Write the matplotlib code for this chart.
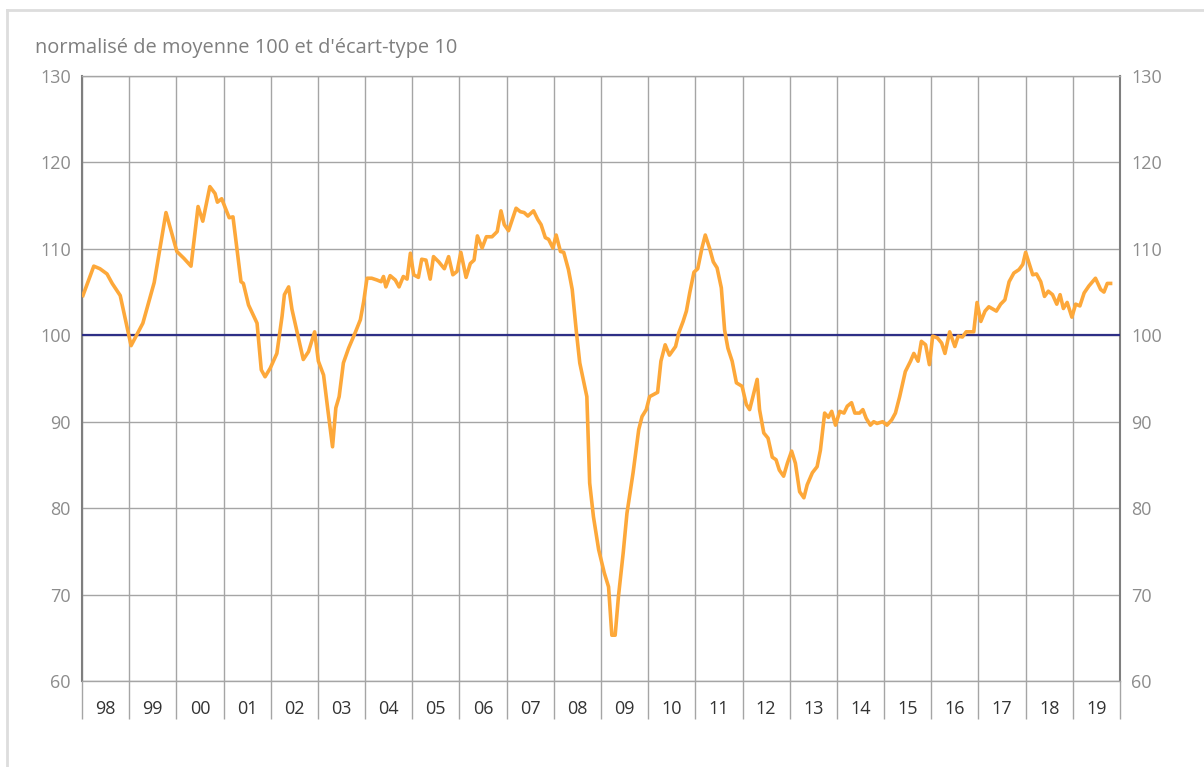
"""
Climat des affaires - indicateur normalisé (moyenne 100, écart-type 10), 1998-2019
"""

import matplotlib.pyplot as plt
from matplotlib.lines import Line2D
import numpy as np

# Data: decimal years (since 1998) and values
X_OFFSET = 1998
DATES = [
    0.02, 0.25, 0.38, 0.53, 0.64, 0.81, 1.04, 1.29, 1.53, 1.78,
    2.01, 2.16, 2.31, 2.46, 2.56, 2.71, 2.82, 2.87, 2.96, 3.12,
    3.20, 3.37, 3.42, 3.53, 3.71, 3.80, 3.88, 3.99, 4.13, 4.24,
    4.29, 4.38, 4.45, 4.55, 4.69, 4.80, 4.93, 5.01, 5.12, 5.21,
    5.31, 5.38, 5.45, 5.54, 5.65, 5.79, 5.90, 5.97, 6.04, 6.14,
    6.25, 6.34, 6.39, 6.44, 6.53, 6.64, 6.72, 6.81, 6.89, 6.96,
    7.03, 7.13, 7.20, 7.29, 7.38, 7.45, 7.56, 7.68, 7.77, 7.86,
    7.95, 8.03, 8.14, 8.23, 8.31, 8.38, 8.48, 8.57, 8.69, 8.80,
    8.88, 8.95, 9.04, 9.20, 9.29, 9.37, 9.45, 9.57, 9.66, 9.73,
    9.82, 9.89, 9.98, 10.05, 10.14, 10.21, 10.31, 10.39, 10.48, 10.55,
    10.70, 10.76, 10.84, 10.95, 11.07, 11.16, 11.23, 11.30, 11.37, 11.47,
    11.55, 11.68, 11.80, 11.87, 11.96, 12.03, 12.20, 12.27, 12.36, 12.45,
    12.58, 12.65, 12.74, 12.81, 12.88, 12.97, 13.05, 13.14, 13.21, 13.30,
    13.38, 13.46, 13.55, 13.62, 13.69, 13.78, 13.87, 13.99, 14.08, 14.15,
    14.22, 14.31, 14.36, 14.45, 14.54, 14.63, 14.71, 14.78, 14.87, 14.95,
    15.04, 15.12, 15.21, 15.30, 15.37, 15.48, 15.58, 15.65, 15.74, 15.82,
    15.89, 15.97, 16.06, 16.15, 16.22, 16.31, 16.38, 16.48, 16.55, 16.62,
    16.71, 16.78, 16.85, 16.97, 17.06, 17.16, 17.24, 17.33, 17.45, 17.56,
    17.63, 17.72, 17.79, 17.88, 17.96, 18.03, 18.13, 18.22, 18.29, 18.39,
    18.50, 18.57, 18.66, 18.74, 18.90, 18.97, 19.05, 19.14, 19.22, 19.38,
    19.47, 19.56, 19.65, 19.75, 19.86, 19.94, 20.00, 20.08, 20.15, 20.23,
    20.32, 20.40, 20.48, 20.57, 20.66, 20.73, 20.80, 20.88, 20.98, 21.06,
    21.15, 21.24, 21.34, 21.48, 21.59, 21.66, 21.73, 21.80,
]
VALUES = [
    104.6, 108.0, 107.7, 107.1, 106.0, 104.6, 98.8, 101.4, 106.1, 114.2,
    109.7, 108.9, 108.0, 114.9, 113.2, 117.2, 116.4, 115.4, 115.8, 113.6,
    113.7, 106.2, 106.0, 103.5, 101.4, 96.0, 95.2, 96.2, 97.9, 102.2,
    104.7, 105.6, 103.0, 100.6, 97.2, 98.1, 100.4, 97.0, 95.4, 91.4,
    87.1, 91.6, 92.9, 96.8, 98.5, 100.3, 101.8, 103.9, 106.6, 106.6,
    106.4, 106.2, 106.8, 105.6, 106.9, 106.4, 105.6, 106.8, 106.5, 109.5,
    107.0, 106.7, 108.8, 108.7, 106.5, 109.1, 108.5, 107.7, 109.1, 107.0,
    107.4, 109.6, 106.7, 108.3, 108.7, 111.5, 110.1, 111.4, 111.4, 112.0,
    114.4, 112.8, 112.1, 114.7, 114.3, 114.2, 113.8, 114.4, 113.4, 112.8,
    111.3, 111.1, 110.1, 111.6, 109.7, 109.6, 107.6, 105.3, 100.3, 96.8,
    92.9, 82.9, 79.0, 75.2, 72.5, 70.9, 65.3, 65.3, 69.8, 74.8,
    79.4, 84.1, 89.1, 90.6, 91.4, 92.9, 93.4, 97.0, 98.9, 97.7,
    98.7, 100.3, 101.6, 102.8, 104.9, 107.3, 107.7, 110.1, 111.6, 110.1,
    108.5, 107.8, 105.5, 100.6, 98.5, 97.0, 94.5, 94.1, 92.0, 91.4,
    92.9, 94.9, 91.4, 88.7, 88.1, 85.9, 85.6, 84.4, 83.7, 85.2,
    86.6, 85.2, 81.9, 81.2, 82.7, 84.1, 84.8, 86.7, 91.0, 90.5,
    91.2, 89.6, 91.2, 91.0, 91.8, 92.2, 91.0, 91.0, 91.4, 90.4,
    89.6, 90.0, 89.8, 90.0, 89.6, 90.2, 91.0, 92.9, 95.8, 97.0,
    97.9, 97.0, 99.3, 98.9, 96.6, 99.9, 99.7, 99.1, 97.9, 100.4,
    98.7, 99.9, 99.8, 100.4, 100.4, 103.8, 101.6, 102.8, 103.3, 102.8,
    103.6, 104.1, 106.2, 107.2, 107.6, 108.2, 109.6, 108.2, 107.0, 107.1,
    106.2, 104.5, 105.1, 104.7, 103.6, 104.7, 103.1, 103.8, 102.1, 103.6,
    103.4, 104.9, 105.7, 106.6, 105.3, 105.0, 106.0, 106.0,
]
YEARS = list(range(1998, 2020))
YEAR_LABELS = [f"{y % 100:02d}" for y in YEARS]
Y_TICKS = [60, 70, 80, 90, 100, 110, 120, 130]
MEAN_LEVEL = 100

# Styles
ORANGE = "#FDA83A"
NAVY = "#2E2F86"
GRID = "#A5A5A5"
TICK_GREY = "#8C8C8C"
FONT = ["Open Sans", "DejaVu Sans"]

plt.rcParams["font.family"] = FONT

W, H = 1204, 767
fig = plt.figure(figsize=(W / 100, H / 100), dpi=100)
ax = fig.add_axes([82 / W, 1 - 681 / H, (1120 - 82) / W, (681 - 76) / H])

x = np.array(DATES) + X_OFFSET

ax.axhline(MEAN_LEVEL, color=NAVY, lw=1.6, zorder=3)
ax.plot(x, VALUES, color=ORANGE, lw=2.6, solid_joinstyle="round", zorder=4)

ax.set_xlim(YEARS[0], YEARS[-1] + 1)
ax.set_ylim(Y_TICKS[0], Y_TICKS[-1])

# year boundaries: long ticks below the axis, labels centered in each year
ax.set_xticks(YEARS + [YEARS[-1] + 1])
ax.set_xticklabels([])
ax.set_xticks([y + 0.5 for y in YEARS], minor=True)
ax.set_xticklabels(YEAR_LABELS, minor=True, fontsize=13, color="#333333")
ax.tick_params(axis="x", which="major", length=27, width=1, color=GRID,
               direction="out")
ax.tick_params(axis="x", which="minor", length=0, pad=14)

ax.set_yticks(Y_TICKS)
ax.tick_params(axis="y", length=0, pad=8, labelsize=13, labelcolor=TICK_GREY,
               labelleft=True, labelright=True)

ax.grid(True, which="major", color=GRID, lw=1)
ax.set_axisbelow(True)

for side in ["top", "bottom"]:
    ax.spines[side].set_color(GRID)
    ax.spines[side].set_linewidth(1)
for side in ["left", "right"]:
    ax.spines[side].set_color("#7F7F7F")
    ax.spines[side].set_linewidth(1.5)

fig.text(35 / W, 1 - 48 / H, "normalisé de moyenne 100 et d'écart-type 10",
         fontsize=14.4, color="#7F7F7F", va="center", ha="left")

# light frame around the chart (runs off the right and bottom edges)
fig.add_artist(Line2D([7 / W, 7 / W], [0, 1 - 10 / H], transform=fig.transFigure,
                      color="#DDDDDD", lw=2))
fig.add_artist(Line2D([7 / W, 1], [1 - 10 / H, 1 - 10 / H],
                      transform=fig.transFigure, color="#DDDDDD", lw=2))

fig.savefig("out.png", dpi=100)
